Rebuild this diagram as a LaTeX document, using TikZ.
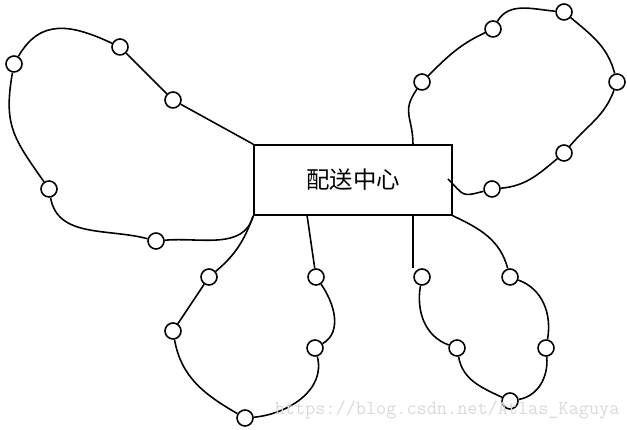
\documentclass[tikz,border=0pt]{standalone}
\usepackage{fontspec}
\newfontfamily\cjk{Noto Sans CJK SC}

\begin{document}
\begin{tikzpicture}[x=.03cm, y=.03cm, line width=1.35pt,
    stop/.style={circle, draw, minimum size=.48cm, inner sep=0pt}]
    \useasboundingbox (0, 0) rectangle (627, 430);
    \node[draw, minimum width=5.94cm, minimum height=2.1cm] (hub) at (353, 250){\cjk\fontsize{20}{23}\selectfont 配送中心};
    % stops
    \node[stop] (a1) at (14, 366){};
    \node[stop] (a2) at (120, 383){};
    \node[stop] (a3) at (173, 330){};
    \node[stop] (a4) at (49, 241){};
    \node[stop] (a5) at (156, 189){};
    \node[stop] (b1) at (422, 348){};
    \node[stop] (b2) at (493, 401){};
    \node[stop] (b3) at (564, 418){};
    \node[stop] (b4) at (617, 348){};
    \node[stop] (b5) at (564, 277){};
    \node[stop] (b6) at (492, 241){};
    \node[stop] (c1) at (209, 153){};
    \node[stop] (c2) at (173, 99){};
    \node[stop] (c3) at (245, 12){};
    \node[stop] (c4) at (315, 82){};
    \node[stop] (c5) at (316, 153){};
    \node[stop] (d1) at (422, 153){};
    \node[stop] (d2) at (457, 82){};
    \node[stop] (d3) at (510, 29){};
    \node[stop] (d4) at (546, 82){};
    \node[stop] (d5) at (510, 153){};
    \coordinate (top) at (413, 285);
    \coordinate (bot) at (413, 215);
    \coordinate (low) at (307, 215);
    \coordinate (ins) at (448, 251);
    % routes
    \draw(hub.north west)--(a3)--(a2)to[out=155, in=60, looseness=1.2](a1)to[out=-100, in=125, looseness=1.2](a4)to[out=-80, in=165](a5)to[out=5, in=-105](hub.south west);
    \draw(hub.south west)to[out=-110, in=40](c1)--(c2)to[out=-80, in=150](c3)to[out=5, in=-75](c4)to[out=30, in=-55](c5)--(low);
    \draw(top)to[out=90, in=-125, looseness=1.3](b1)to[out=45, in=-155](b2)to[out=60, in=175](b3)to[out=-40, in=105](b4)to[out=-110, in=50](b5)to[out=-140, in=5](b6)to[out=195, in=-45, looseness=1.6](ins);
    \draw(bot)--(bot |- d1.north);
    \draw(d1)to[out=-100, in=160](d2)to[out=-80, in=155](d3)to[out=10, in=-85](d4)to[out=80, in=-20](d5)to[out=105, in=-25](hub.south east);
    \node[anchor=west, inner sep=0pt, text=gray!30, font=\fontsize{16.8}{17}\ttfamily] (mark) at (274, 20){https://blog.csdn.net/Atlas\_Kaguya};
\end{tikzpicture}
\end{document}
